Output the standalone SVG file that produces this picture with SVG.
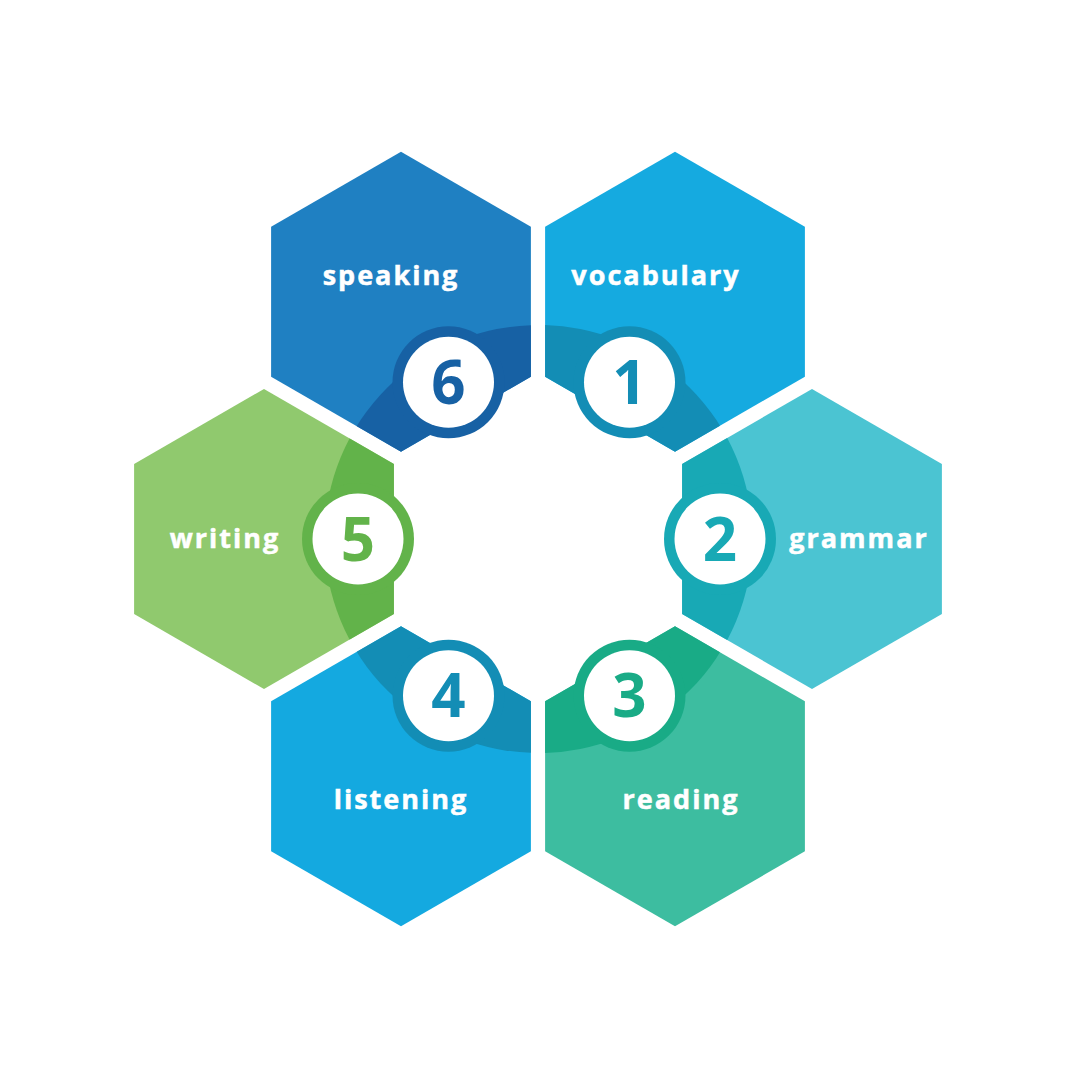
<svg xmlns="http://www.w3.org/2000/svg" xmlns:xlink="http://www.w3.org/1999/xlink" width="1080" height="1079" viewBox="0 0 1080 1079">
  <style>
    .lbl { font-family: "Open Sans", "Liberation Sans", sans-serif; font-weight: 700; font-size: 27px; fill: #ffffff; stroke: #ffffff; stroke-width: 0.5px; text-anchor: middle; letter-spacing: 2px; }
    .num { font-family: "Open Sans", "Liberation Sans", sans-serif; font-weight: 700; font-size: 60px; text-anchor: middle; }
    .inner { fill: #ffffff; }
  </style>
  <defs>
    <path id="hex" d="M0,-150 L129.9,-75 L129.9,75 L0,150 L-129.9,75 L-129.9,-75 Z"/>
    <clipPath id="c1"><use xlink:href="#hex" href="#hex" x="675" y="301.7"/></clipPath>
    <clipPath id="c2"><use xlink:href="#hex" href="#hex" x="812" y="539"/></clipPath>
    <clipPath id="c3"><use xlink:href="#hex" href="#hex" x="675" y="776.3"/></clipPath>
    <clipPath id="c4"><use xlink:href="#hex" href="#hex" x="401" y="776.3"/></clipPath>
    <clipPath id="c5"><use xlink:href="#hex" href="#hex" x="264" y="539"/></clipPath>
    <clipPath id="c6"><use xlink:href="#hex" href="#hex" x="401" y="301.7"/></clipPath>
  </defs>
  <rect width="1080" height="1079" fill="#ffffff"/>

  <g id="node-vocabulary">
    <use href="#hex" x="675" y="301.7" fill="#15aae0"/>
    <circle cx="538.5" cy="539" r="214" fill="#138db5" clip-path="url(#c1)"/>
    <circle cx="629.5" cy="382.3" r="56" fill="#138db5"/>
    <circle class="inner" cx="629.5" cy="382.3" r="45.5"/>
    <text class="num" x="629.5" y="404" fill="#138db5">1</text>
    <text class="lbl" x="656" y="285">vocabulary</text>
  </g>

  <g id="node-grammar">
    <use href="#hex" x="812" y="539" fill="#4bc4d2"/>
    <circle cx="538.5" cy="539" r="214" fill="#18a9b5" clip-path="url(#c2)"/>
    <circle cx="720" cy="539" r="56" fill="#18a9b5"/>
    <circle class="inner" cx="720" cy="539" r="45.5"/>
    <text class="num" x="720" y="560.5" fill="#18a9b5">2</text>
    <text class="lbl" x="859" y="548">grammar</text>
  </g>

  <g id="node-reading">
    <use href="#hex" x="675" y="776.3" fill="#3dbda0"/>
    <circle cx="538.5" cy="539" r="214" fill="#19ab86" clip-path="url(#c3)"/>
    <circle cx="629.5" cy="695.7" r="56" fill="#19ab86"/>
    <circle class="inner" cx="629.5" cy="695.7" r="45.5"/>
    <text class="num" x="629.5" y="717.2" fill="#19ab86">3</text>
    <text class="lbl" x="681" y="809">reading</text>
  </g>

  <g id="node-listening">
    <use href="#hex" x="401" y="776.3" fill="#14a9e0"/>
    <circle cx="538.5" cy="539" r="214" fill="#138db5" clip-path="url(#c4)"/>
    <circle cx="448.5" cy="695.7" r="56" fill="#138db5"/>
    <circle class="inner" cx="448.5" cy="695.7" r="45.5"/>
    <text class="num" x="448.5" y="717.2" fill="#138db5">4</text>
    <text class="lbl" x="401" y="809">listening</text>
  </g>

  <g id="node-writing">
    <use href="#hex" x="264" y="539" fill="#90c96e"/>
    <circle cx="538.5" cy="539" r="214" fill="#62b34a" clip-path="url(#c5)"/>
    <circle cx="358" cy="539" r="56" fill="#62b34a"/>
    <circle class="inner" cx="358" cy="539" r="45.5"/>
    <text class="num" x="358" y="560.5" fill="#62b34a">5</text>
    <text class="lbl" x="225" y="548">writing</text>
  </g>

  <g id="node-speaking">
    <use href="#hex" x="401" y="301.7" fill="#1f80c2"/>
    <circle cx="538.5" cy="539" r="214" fill="#1761a4" clip-path="url(#c6)"/>
    <circle cx="448.5" cy="382.3" r="56" fill="#1761a4"/>
    <circle class="inner" cx="448.5" cy="382.3" r="45.5"/>
    <text class="num" x="448.5" y="404" fill="#1761a4">6</text>
    <text class="lbl" x="391" y="285">speaking</text>
  </g>

  <g id="connectors"/>
</svg>
